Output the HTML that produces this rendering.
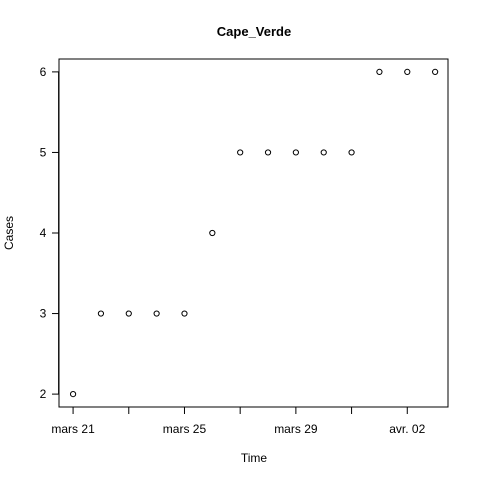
<!DOCTYPE html>
<html><head><meta charset="utf-8"><style>
body{margin:0;background:#fff}
text{font-family:"Liberation Sans",Arial,sans-serif;fill:#000}
</style></head><body>
<svg width="480" height="480" xmlns="http://www.w3.org/2000/svg">
<rect width="480" height="480" fill="#fff"/>
<text x="254" y="36" font-size="13" font-weight="bold" text-anchor="middle">Cape_Verde</text>
<rect x="59" y="59" width="389" height="348" fill="none" stroke="#000"/>
<text x="254" y="462" font-size="12" text-anchor="middle">Time</text>
<text transform="translate(13,233) rotate(-90)" font-size="12" text-anchor="middle">Cases</text>
<g id="axes"></g>
<g id="points"></g>
</svg>
<script>
const values=[2,3,3,3,3,4,5,5,5,5,5,6,6,6];
const xTicks=[0,2,4,6,8,10,12];
const xTickLabels=["mars 21","","mars 25","","mars 29","","avr. 02"];
const yTicks=[2,3,4,5,6];
const L=58.6,R=449.6,T=59,B=407;
const n=values.length;
const xr=(n-1)*0.04;
function xs(i){return L+(i+xr)/((n-1)+2*xr)*(R-L);}
const ymin=Math.min(...values),ymax=Math.max(...values),yr=(ymax-ymin)*0.04;
function ys(v){return B-(v-ymin+yr)/((ymax-ymin)+2*yr)*(B-T);}
const NS="http://www.w3.org/2000/svg";
const ax=document.getElementById('axes'),pg=document.getElementById('points');
function mk(tag,attrs,parent){const e=document.createElementNS(NS,tag);for(const k in attrs)e.setAttribute(k,attrs[k]);parent.appendChild(e);return e;}
const xl=mk('line',{x1:xs(xTicks[0]),x2:xs(xTicks[xTicks.length-1]),y1:B,y2:B,stroke:'#000'},ax);


xTicks.forEach((t,k)=>{
 const l=mk('line',{x1:xs(t),x2:xs(t),y1:B,y2:B+7,stroke:'#000'},ax);
 
 
 if(xTickLabels[k]){const tx=mk('text',{x:xs(t),y:B+26,'font-size':12,'text-anchor':'middle'},ax);tx.textContent=xTickLabels[k];
 
 }
});
const yl=mk('line',{x1:L,x2:L,y1:ys(yTicks[0]),y2:ys(yTicks[yTicks.length-1]),stroke:'#000'},ax);


yTicks.forEach(t=>{
 const l=mk('line',{x1:59-7,x2:59,y1:ys(t),y2:ys(t),stroke:'#000'},ax);
 
 
 const tx=mk('text',{x:59-16,y:ys(t)+4,'font-size':12,'text-anchor':'middle'},ax);tx.textContent=t;
 
 
});
values.forEach((v,i)=>{
 const c=mk('circle',{cx:xs(i),cy:ys(v),r:2.6,fill:'none',stroke:'#000','stroke-width':1},pg);
 
 
});
</script>
</body></html>
